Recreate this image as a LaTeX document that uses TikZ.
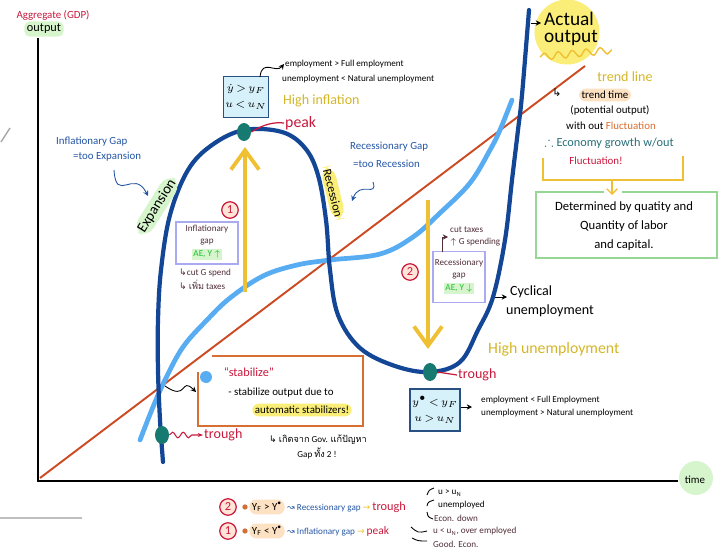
\documentclass[tikz,border=0pt]{standalone}
\usepackage{amsmath,amssymb}
\usepackage{fontspec}
\setmainfont{Carlito}
\newfontfamily\thaifont[Script=Thai]{Loma}
\newfontfamily\symfont{DejaVu Sans}
\usetikzlibrary{arrows.meta,shapes.geometric,decorations.pathmorphing}

\tikzset{
  f5/.style={font=\fontsize{5.2}{6}\selectfont, inner sep=0.5pt},
  f6/.style={font=\fontsize{6.2}{7}\selectfont, inner sep=0.5pt},
  f7/.style={font=\fontsize{7}{8}\selectfont, inner sep=0.5pt},
  f8/.style={font=\fontsize{8}{9}\selectfont, inner sep=0.5pt},
  f9/.style={font=\fontsize{9}{10}\selectfont, inner sep=0.5pt},
  dotn/.style={ellipse, fill=teal, minimum width=0.28cm, minimum height=0.36cm, inner sep=0},
  numc/.style={circle, draw=redtxt, fill=numfill, text=redtxt, line width=.7pt,
    minimum size=0.33cm, inner sep=0, font=\fontsize{7}{7}\selectfont},
  cbox/.style={draw=boxline, fill=boxcyan, line width=.6pt, align=center,
    inner sep=1pt, font=\fontsize{6.5}{9}\selectfont},
  gbox/.style={draw=lav, line width=.6pt, align=center, inner sep=1pt,
    text=brn, font=\fontsize{5.2}{6.6}\selectfont},
  hl/.style={rounded corners=3pt, inner sep=1.5pt},
  tip/.style={-{Stealth[length=3pt,width=3pt]}, line width=.5pt}
}

\begin{document}
\begin{tikzpicture}[x=0.02cm,y=-0.02cm]
\definecolor{navy}{RGB}{20,70,150}
\definecolor{skyb}{RGB}{88,172,242}
\definecolor{rust}{RGB}{205,75,35}
\definecolor{teal}{RGB}{22,122,112}
\definecolor{gold}{RGB}{240,192,52}
\definecolor{goldtxt}{RGB}{212,182,40}
\definecolor{redtxt}{RGB}{200,25,60}
\definecolor{bluetxt}{RGB}{35,85,165}
\definecolor{tealtxt}{RGB}{40,110,120}
\definecolor{hlgreen}{RGB}{215,245,205}
\definecolor{hlyellow}{RGB}{250,238,120}
\definecolor{hlorange}{RGB}{252,225,195}
\definecolor{boxcyan}{RGB}{215,241,251}
\definecolor{boxline}{RGB}{40,80,130}
\definecolor{lav}{RGB}{170,170,240}
\definecolor{orng}{RGB}{215,110,50}
\definecolor{grnbox}{RGB}{150,215,150}
\definecolor{greentxt}{RGB}{30,190,50}
\definecolor{brn}{RGB}{80,45,55}
\definecolor{numfill}{RGB}{255,228,215}
\useasboundingbox (0,0) rectangle (724,551);
%% --- stray marks at the left edge ---
\draw[gray!70, line width=.8pt] (1,142) -- (10,128);
\draw[gray!50, line width=.6pt] (0,518) -- (82,518);
%% --- axes ---
\coordinate (yTop) at (38,38);
\coordinate (org) at (38,481);
\coordinate (xEnd) at (678,481);
\draw[line width=1.3pt] (yTop) -- (org) -- (xEnd);
\node[f6, text=redtxt] (aggL) at (53,15) {Aggregate (GDP)};
\node[f7, hl, fill=hlgreen] (outL) at (44,29) {output};
\node[circle, fill=hlgreen, minimum size=0.68cm, inner sep=0] (timeBlob) at (696,478) {};
\node[f6] (timeL) at (695,480) {time};
%% --- trend line ---
\coordinate (tl0) at (40,478);
\coordinate (tl1) at (585,66);
\draw[rust, line width=1.1pt] (tl0) -- (tl1);
%% --- actual output (light blue) ---
\draw[skyb, line width=2.7pt, line cap=round] plot[smooth, tension=.6] coordinates {
  (140,440) (153,407) (165,380) (183,347) (207,320) (230,298) (263,276) (297,265)
  (330,260) (380,254) (413,237) (440,213) (470,183) (490,150) (500,130) (512,100)};
%% --- business cycle (dark blue) ---
\draw[navy, line width=2.4pt, line cap=round] plot[smooth, tension=.6] coordinates {
  (163,462) (160,420) (158,370) (158,320) (161,270) (170,215) (188,170) (212,145)
  (244,130) (282,132) (305,148) (318,175) (326,220) (330,270) (338,315) (360,348)
  (395,366) (430,372) (460,362) (478,330) (493,297) (505,240) (512,180) (518,130)
  (522,95) (529,10)};
%% --- yellow arrows ---
\coordinate (a1s) at (245,292);
\coordinate (a1e) at (245,147);
\draw[gold, line width=2.2pt, -{Straight Barb[length=11pt,width=16pt]}] (a1s) -- (a1e);
\coordinate (a2s) at (428,200);
\coordinate (a2e) at (428,349);
\draw[gold, line width=2.2pt, -{Straight Barb[length=11pt,width=16pt]}] (a2s) -- (a2e);
\node[numc] (n1) at (230,210) {1};
\node[numc] (n2) at (410,272) {2};
%% --- peak ---
\node[dotn] (pkDot) at (244,132) {};
\node[cbox, minimum width=0.84cm, minimum height=0.82cm] (pkBox) at (246,97) {$\dot{y}\,{>}\,y_F$\\$u\,{<}\,u_N$};
\node[f5, anchor=west] (pkE1) at (284,64) {employment > Full employment};
\node[f5, anchor=west] (pkE2) at (281,79) {unemployment < Natural unemployment};
\node[f8, anchor=west, text=goldtxt] (hiInf) at (282,101) {High inflation};
\node[f9, anchor=west, text=redtxt] (pkL) at (284,123) {peak};
\coordinate (pkBx) at (260,77);
\draw[tip] (pkBx) .. controls (262,58) and (276,74) .. (pkE1.west);
\draw[redtxt, line width=.7pt] (pkDot.east) .. controls (264,124) and (274,122) .. (pkL.west);
%% --- expansion side ---
\node[f6, text=bluetxt, anchor=west] (igT1) at (55,142) {Inflationary Gap};
\node[f6, text=bluetxt, anchor=west] (igT2) at (72,157) {=too Expansion};
\coordinate (igA) at (114,170);
\coordinate (igB) at (148,196);
\draw[tip, bluetxt] (igA) .. controls (116,204) and (134,168) .. (igB);
\node[font=\fontsize{8.3}{9}\selectfont, hl, fill=hlgreen, rotate=58, rounded corners=7pt] (expL) at (157,206) {Expansion};
\node[gbox, minimum width=1.24cm, minimum height=0.84cm] (igBox) at (207,243)
  {Inflationary\\gap\\[1pt]\setlength\fboxsep{1pt}\colorbox{hlgreen}{\textcolor{greentxt}{AE, Y $\uparrow$}}};
\node[f5, anchor=west, text=brn] (igP1) at (178,273) {{\symfont ↳}cut G spend};
\node[f5, anchor=west, text=brn] (igP2) at (178,285) {{\symfont ↳} {\thaifont เพิ่ม} taxes};
%% --- recession side ---
\node[f7, hl, fill=hlyellow, rotate=-76, rounded corners=7pt] (recL) at (333,193) {Recession};
\node[f6, text=bluetxt, anchor=west] (rgT1) at (349,147) {Recessionary Gap};
\node[f6, text=bluetxt, anchor=west] (rgT2) at (352,164) {=too Recession};
\coordinate (rgA) at (373,182);
\coordinate (rgB) at (352,201);
\draw[tip, bluetxt] (rgA) .. controls (378,198) and (360,180) .. (rgB);
\node[gbox, minimum width=1.04cm, minimum height=1.02cm] (rgBox) at (459,277)
  {Recessionary\\gap\\[1pt]\setlength\fboxsep{1pt}\colorbox{hlgreen}{\textcolor{greentxt}{AE, Y $\downarrow$}}};
\node[f5, anchor=west, text=brn] (rgP1) at (449,230) {cut taxes};
\node[f5, anchor=west, text=brn] (rgP2) at (449,242) {$\uparrow$ G spending};
\coordinate (rgC) at (442,252);
\coordinate (rgD) at (448,237);
\draw[tip, brn] (rgC) |- (rgD);
\coordinate (cyA) at (495,297);
\coordinate (cyB) at (507,297);
\draw[tip] (cyA) -- (cyB);
\node[f8, anchor=west] (cyL1) at (509,292) {Cyclical};
\node[f8, anchor=west] (cyL2) at (505,311) {unemployment};
%% --- trough ---
\node[dotn] (trDot) at (430,372) {};
\node[f8, anchor=west, text=redtxt] (trL) at (457,375) {trough};
\draw[redtxt, line width=.7pt] (trDot.east) -- (trL.west);
\node[f9, anchor=west, text=goldtxt] (hiUn) at (487,349) {High unemployment};
\node[cbox, minimum width=1.0cm, minimum height=0.84cm] (trBox) at (435,410) {$y^{\bullet}\,{<}\,y_F$\\$u\,{>}\,u_N$};
\node[f5, anchor=west] (trE1) at (480,400) {employment < Full Employment};
\node[f5, anchor=west] (trE2) at (480,413) {unemployment > Natural unemployment};
\coordinate (trA) at (461,407);
\coordinate (trB) at (472,407);
\draw[tip] (trA) -- (trB);
%% --- stabilize ---
\draw[orng, line width=.8pt] (212,356) -- (363,356) -- (363,426) -- (198,426) -- (198,372);
\node[circle, fill=skyb, minimum size=0.24cm, inner sep=0] (stDot) at (206,377) {};
\node[f7, text=redtxt] (stT) at (249,372) {“stabilize”};
\node[f6] (stL1) at (281,393) {- stabilize output due to};
\node[f6, hl, fill=hlyellow, rounded corners=4pt] (stL2) at (302,410) {automatic stabilizers!};
\node[f5] (stL3) at (318,440) {{\symfont ↳} {\thaifont เกิดจาก} Gov. {\thaifont แก้ปัญหา}};
\node[f5] (stL4) at (317,453) {Gap {\thaifont ทั้ง} 2 !};
\coordinate (xCr) at (165,386);
\coordinate (stB) at (196,392);
\draw[tip] (xCr) .. controls (188,402) and (180,376) .. (stB);
\node[dotn] (tr2Dot) at (162,435) {};
\node[f8, anchor=west, text=redtxt] (tr2L) at (203,435) {trough};
\draw[redtxt, line width=.6pt, -{Stealth[length=3pt]}, decorate,
  decoration={snake, amplitude=1.6pt, segment length=6pt, post length=4pt}] (tr2Dot.east) -- (tr2L.west);
%% --- actual output / trend line notes ---
\node[circle, fill=hlyellow, minimum size=1.3cm, inner sep=0] (aoBlob) at (567,32) {};
\node[font=\fontsize{11}{10}\selectfont, align=left, inner sep=0] (aoL) at (571,29) {Actual\\output};
\coordinate (aoA) at (531,23);
\coordinate (aoB) at (541,23);
\draw[tip] (aoA) -- (aoB);
\coordinate (wv0) at (540,57);
\coordinate (wv1) at (612,50);
\draw[gold, line width=.8pt, decorate, decoration={snake, amplitude=2pt, segment length=8pt}] (wv0) -- (wv1);
\node[f8, text=goldtxt] (tlL) at (625,77) {trend line};
\node[f6] (ttArr) at (557,93) {{\symfont ↳}};
\node[f6, hl, fill=hlorange, rounded corners=4pt] (ttL) at (605,95) {trend time};
\node[f6] (poL) at (610,110) {(potential output)};
\node[f6] (woL) at (611,126) {with out \textcolor{orng}{Fluctuation}};
\node[f7, text=tealtxt] (egL) at (609,143) {$\therefore$ Economy growth w/out};
\node[f6, text=redtxt] (flL) at (596,161) {Fluctuation!};
\draw[gold, line width=.8pt] (543,158) -- (543,180) -- (683,180) -- (683,156);
\coordinate (brA) at (612,180);
\coordinate (brB) at (612,195);
\draw[gold, line width=.8pt, -{Straight Barb[length=3pt,width=6pt]}] (brA) -- (brB);
\draw[grnbox, line width=.8pt] (604,192) -- (536,192) -- (536,258) -- (717,258) -- (717,192) -- (622,192);
\node[font=\fontsize{7.2}{10.8}\selectfont, align=center] (dtL) at (624,226)
  {Determined by quatity and\\Quantity of labor\\and capital.};
%% --- legend ---
\node[numc] (lg2) at (228,507) {2};
\node[circle, fill=orng, minimum size=3pt, inner sep=0] (lg2b) at (245,507) {};
\node[f6, hl, fill=hlorange, rounded corners=4pt] (lg2a) at (267,507) {Y\textsubscript{F} > Y\textsuperscript{•}};
\node[f5, anchor=west] (lg2t) at (286,507) {\textcolor{bluetxt}{{\symfont ↝} Recessionary gap}
  \textcolor{gold}{{\symfont →}} \textcolor{redtxt}{\fontsize{7}{7}\selectfont trough}};
\node[numc] (lg1) at (228,531) {1};
\node[circle, fill=orng, minimum size=3pt, inner sep=0] (lg1b) at (245,531) {};
\node[f6, hl, fill=hlorange, rounded corners=4pt] (lg1a) at (267,531) {Y\textsubscript{F} < Y\textsuperscript{•}};
\node[f5, anchor=west] (lg1t) at (286,531) {\textcolor{bluetxt}{{\symfont ↝} Inflationary gap}
  \textcolor{gold}{{\symfont →}} \textcolor{redtxt}{\fontsize{6.5}{7}\selectfont peak}};
\draw[line width=.5pt] (434,488) .. controls (429,490) .. (427,495);
\draw[line width=.5pt] (434,500) .. controls (428,502) .. (427,506);
\draw[line width=.5pt] (427,512) .. controls (428,517) .. (433,519);
\draw[line width=.5pt] (411,527) .. controls (418,533) .. (427,531);
\draw[line width=.5pt] (412,538) .. controls (418,541) .. (427,541);
\node[f5, anchor=west] (lgU1) at (437,493) {u > u\textsubscript{N}};
\node[f5, anchor=west] (lgU2) at (437,505) {unemployed};
\node[f5, anchor=west, text=brn] (lgU3) at (433,518) {Econ. down};
\node[f5, anchor=west, text=brn] (lgO1) at (432,531) {u < u\textsubscript{N}, over employed};
\node[f5, anchor=west, text=brn] (lgO2) at (432,544) {Good. Econ.};
\end{tikzpicture}
\end{document}
